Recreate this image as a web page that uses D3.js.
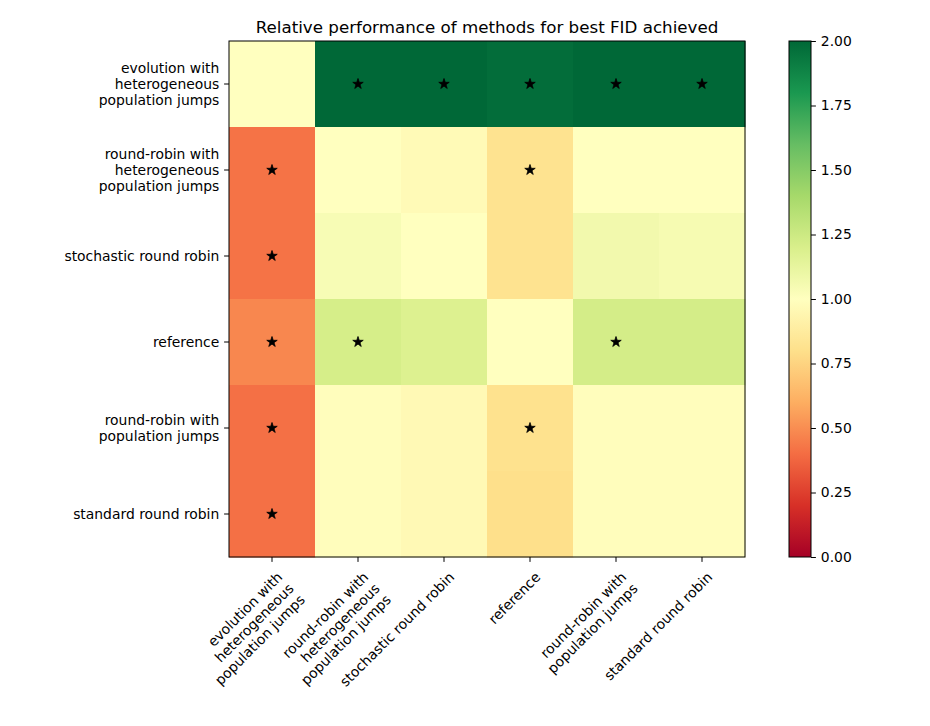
<!DOCTYPE html>
<html>
<head>
<meta charset="utf-8">
<script src="https://cdn.jsdelivr.net/npm/d3@7"></script>
<style>
  body { margin: 0; background: #fff; }
  text { font-family: "DejaVu Sans", sans-serif; fill: #000; }
</style>
</head>
<body>
<svg id="chart" width="930" height="726"></svg>
<script>
  // data
  var methods = [
    "evolution with\nheterogeneous\npopulation jumps",
    "round-robin with\nheterogeneous\npopulation jumps",
    "stochastic round robin",
    "reference",
    "round-robin with\npopulation jumps",
    "standard round robin"
  ]
  // rows top to bottom, columns left to right
  var values = [
    [1.00, 2.00, 2.00, 1.98, 2.00, 2.00],
    [0.42, 1.00, 0.97, 0.82, 1.00, 1.00],
    [0.42, 1.04, 1.00, 0.82, 1.07, 1.05],
    [0.48, 1.21, 1.18, 1.00, 1.22, 1.22],
    [0.41, 0.99, 0.96, 0.81, 0.99, 0.99],
    [0.41, 0.99, 0.96, 0.80, 0.99, 0.99]
  ]
  var stars = [
    [0, 1, 1, 1, 1, 1],
    [1, 0, 0, 1, 0, 0],
    [1, 0, 0, 0, 0, 0],
    [1, 1, 0, 0, 1, 0],
    [1, 0, 0, 1, 0, 0],
    [1, 0, 0, 0, 0, 0]
  ]
  var cbTicks = [0, 0.25, 0.5, 0.75, 1, 1.25, 1.5, 1.75, 2]
  var title = "Relative performance of methods for best FID achieved"

  // RdYlGn (colorbrewer 11 stops, linear like matplotlib)
  var brewer = ["#a50026", "#d73027", "#f46d43", "#fdae61", "#fee08b", "#ffffbf",
                "#d9ef8b", "#a6d96a", "#66bd63", "#1a9850", "#006837"]
  var color = d3.scaleLinear()
      .domain(d3.range(brewer.length).map(function (i) { return i * 2 / (brewer.length - 1) }))
      .range(brewer)
      .interpolate(d3.interpolateRgb)
      .clamp(true)

  /* layout */
  var axLeft = 229, axTop = 41, axSize = 516
  var cbLeft = 789, cbWidth = 22
  var fontSize = 13.9, lineH = 16

  var svg = d3.select("#chart")

  var x = d3.scaleBand().domain(d3.range(methods.length)).range([axLeft, axLeft + axSize])
  var y = d3.scaleBand().domain(d3.range(methods.length)).range([axTop, axTop + axSize])

  /* cells */
  var cells = []
  values.forEach(function (row, r) {
    row.forEach(function (v, c) {
      cells.push({ r: r, c: c, v: v, s: stars[r][c] })
    })
  })

  svg.append("g").selectAll("rect")
      .data(cells)
      .enter()
      .append("rect")
      .attr("x", function (d) { return x(d.c) })
      .attr("y", function (d) { return y(d.r) })
      .attr("width", x.bandwidth() + 0.5)
      .attr("height", y.bandwidth() + 0.5)
      .attr("fill", function (d) { return color(d.v) })

  /* stars */
  svg.append("g").selectAll("path")
      .data(cells.filter(function (d) { return d.s }))
      .enter()
      .append("path")
      .attr("d", d3.symbol().type(d3.symbolStar).size(34))
      .attr("transform", function (d) {
        return "translate(" + (x(d.c) + x.bandwidth() / 2) + "," + (y(d.r) + y.bandwidth() / 2) + ")"
      })
      .attr("fill", "#000")
      .attr("stroke", "#000")
      .attr("stroke-width", 0.8)
      .attr("stroke-linejoin", "miter")

  svg.append("rect")
      .attr("x", axLeft).attr("y", axTop)
      .attr("width", axSize).attr("height", axSize)
      .attr("fill", "none").attr("stroke", "#000").attr("stroke-width", 1)

  /* y axis */
  var yTicks = svg.append("g")
  methods.forEach(function (m, i) {
    var cy = y(i) + y.bandwidth() / 2
    yTicks.append("line")
        .attr("x1", axLeft).attr("x2", axLeft - 4.9)
        .attr("y1", cy).attr("y2", cy)
        .attr("stroke", "#000")
    var lines = m.split("\n")
    var t = yTicks.append("text")
        .attr("text-anchor", "end")
        .attr("font-size", fontSize)
    lines.forEach(function (l, k) {
      t.append("tspan")
          .attr("x", axLeft - 9.7)
          .attr("y", cy + (k - (lines.length - 1) / 2) * lineH)
          .attr("dy", "0.35em")
          .text(l)
    })
  })

  /* x axis: labels anchored at their top-right corner, rotated 45deg */
  var xTicks = svg.append("g")
  methods.forEach(function (m, i) {
    var cx = x(i) + x.bandwidth() / 2
    xTicks.append("line")
        .attr("x1", cx).attr("x2", cx)
        .attr("y1", axTop + axSize).attr("y2", axTop + axSize + 4.9)
        .attr("stroke", "#000")
    var lines = m.split("\n")
    var t = xTicks.append("text")
        .attr("text-anchor", "end")
        .attr("font-size", fontSize)
        .attr("transform", "translate(" + cx + "," + (axTop + axSize + 9.7) + ") rotate(-45)")
    lines.forEach(function (l, k) {
      t.append("tspan").attr("x", 0).attr("y", 16 + k * lineH).text(l)
    })
  })

  /* title */
  svg.append("text")
      .attr("x", axLeft + axSize / 2)
      .attr("y", axTop - 8.3)
      .attr("text-anchor", "middle")
      .attr("font-size", 16.7)
      .text(title)

  /* colorbar */
  var cbScale = d3.scaleLinear().domain([0, 2]).range([axTop + axSize, axTop])
  var grad = svg.append("defs").append("linearGradient")
      .attr("id", "cbgrad")
      .attr("x1", 0).attr("y1", 1).attr("x2", 0).attr("y2", 0)
  grad.selectAll("stop")
      .data(color.domain())
      .enter()
      .append("stop")
      .attr("offset", function (d) { return d / 2 })
      .attr("stop-color", function (d) { return color(d) })

  svg.append("rect")
      .attr("x", cbLeft).attr("y", axTop)
      .attr("width", cbWidth).attr("height", axSize)
      .attr("fill", "url(#cbgrad)")
      .attr("stroke", "#000").attr("stroke-width", 1)

  var cbAxis = d3.axisRight(cbScale)
      .tickValues(cbTicks)
      .tickFormat(d3.format(".2f"))
      .tickSize(4.9)
      .tickPadding(4.9)

  svg.append("g")
      .attr("transform", "translate(" + (cbLeft + cbWidth) + ",0)")
      .call(cbAxis)
      .call(function (g) {
        g.select(".domain").remove()
        g.selectAll("text").attr("font-size", fontSize).attr("font-family", "DejaVu Sans")
      })
</script>
</body>
</html>
